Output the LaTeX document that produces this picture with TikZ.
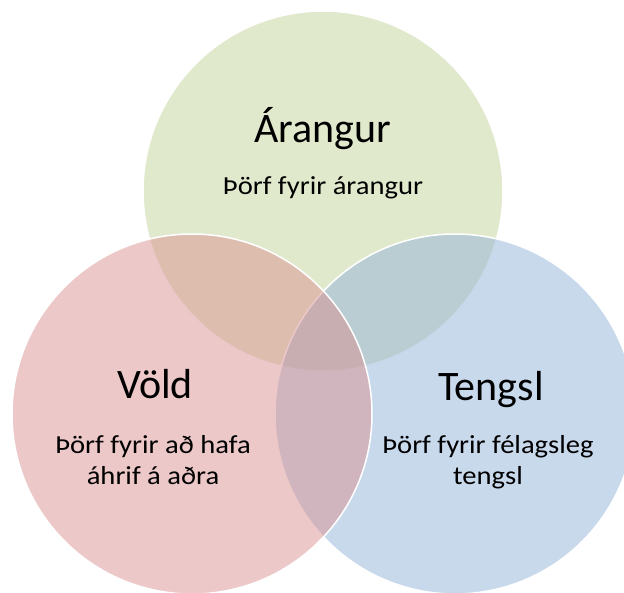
\documentclass[tikz,border=0pt]{standalone}
\usepackage{fontspec}
\setmainfont{Carlito}
\definecolor{vgreen}{RGB}{195,211,155}
\definecolor{vred}{RGB}{217,145,145}
\definecolor{vblue}{RGB}{147,179,217}
\tikzset{
  vset/.style={draw=white, line width=1.5pt, fill opacity=0.5},
  vtitle/.style={anchor=base, font=\fontsize{42}{46}\selectfont, inner sep=0pt},
  vtext/.style={anchor=base, font=\fontsize{26}{30}\selectfont, inner sep=0pt, xscale=1.1}
}
\begin{document}
\begin{tikzpicture}[x=1pt, y=-1pt]
  \useasboundingbox (0,0) rectangle (624,592);
  % three overlapping sets, drawn back to front
  \path[vset, fill=vgreen] (323,191) circle[radius=180];
  \path[vset, fill=vblue]  (455,414) circle[radius=180];
  \path[vset, fill=vred]   (192,414) circle[radius=180];
  % labels
  \node[vtitle] (t1) at (323,142) {Árangur};
  \node[vtext]  (s1) at (323,194) {Þörf fyrir árangur};
  \node[vtitle] (t2) at (155,398) {Völd};
  \node[vtext]  (s2a) at (153,453) {Þörf fyrir að hafa};
  \node[vtext]  (s2b) at (153,484) {áhrif á aðra};
  \node[vtitle] (t3) at (491,400) {Tengsl};
  \node[vtext]  (s3a) at (488,453) {Þörf fyrir félagsleg};
  \node[vtext]  (s3b) at (488,484) {tengsl};
\end{tikzpicture}
\end{document}
